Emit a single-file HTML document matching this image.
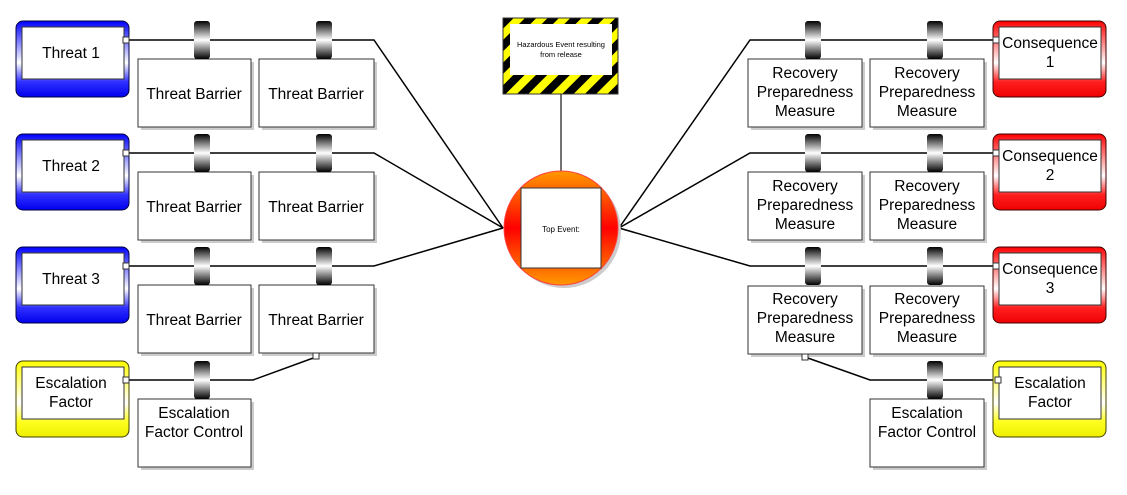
<!DOCTYPE html>
<html><head><meta charset="utf-8"><style>
html,body{margin:0;padding:0;background:#fff;}
svg text{font-family:"Liberation Sans",sans-serif;fill:#000;}
</style></head><body>
<svg width="1127" height="490" viewBox="0 0 1127 490" xmlns="http://www.w3.org/2000/svg">
<defs>
<linearGradient id="blue" x1="0" y1="0" x2="0" y2="1">
<stop offset="0" stop-color="#0000ff"/><stop offset="0.55" stop-color="#ffffff"/><stop offset="0.8" stop-color="#3030ff"/><stop offset="1" stop-color="#0000ee"/></linearGradient>
<linearGradient id="red" x1="0" y1="0" x2="0" y2="1">
<stop offset="0" stop-color="#ff0000"/><stop offset="0.55" stop-color="#ffffff"/><stop offset="0.8" stop-color="#ff2020"/><stop offset="1" stop-color="#ee0000"/></linearGradient>
<linearGradient id="yel" x1="0" y1="0" x2="0" y2="1">
<stop offset="0" stop-color="#ffff00"/><stop offset="0.55" stop-color="#ffffff"/><stop offset="0.8" stop-color="#ffff20"/><stop offset="1" stop-color="#eeee00"/></linearGradient>
<linearGradient id="knob" x1="0" y1="0" x2="0" y2="1">
<stop offset="0" stop-color="#000"/><stop offset="0.5" stop-color="#fff"/><stop offset="1" stop-color="#000"/></linearGradient>
<linearGradient id="circ" x1="0" y1="0" x2="0" y2="1">
<stop offset="0" stop-color="#ff9900"/><stop offset="0.5" stop-color="#ff0000"/><stop offset="1" stop-color="#ff9900"/></linearGradient>
<pattern id="haz" patternUnits="userSpaceOnUse" width="16" height="16" patternTransform="rotate(45)">
<rect width="16" height="16" fill="#ffff00"/><rect width="8" height="16" fill="#000"/></pattern>
<g id="knobg"><rect x="-8" y="0" width="16" height="38" rx="3" fill="url(#knob)"/></g>
</defs>

<g stroke="#000" stroke-width="1.5" fill="none">
<polyline points="129,40 374,40 503,228"/>
<polyline points="129,153 374,153 503,228"/>
<polyline points="129,266 374,266 503,228"/>
<polyline points="129,380 253,380 316,357"/>
<polyline points="993,40 750,40 619,228"/>
<polyline points="993,153 750,153 619,228"/>
<polyline points="993,266 750,266 619,228"/>
<polyline points="995,380 870,380 805,357"/>
<line x1="561" y1="94" x2="561" y2="171" stroke="#444"/>
</g>

<rect x="503" y="18" width="115" height="76" fill="url(#haz)" stroke="#333"/>
<rect x="510" y="24" width="102" height="51" fill="#fff"/>
<text x="561" y="47" font-size="7.5" text-anchor="middle">Hazardous Event resulting</text>
<text x="561" y="57" font-size="7.5" text-anchor="middle">from release</text>

<circle cx="564" cy="231" r="57" fill="#ccc"/>
<circle cx="561" cy="228" r="57" fill="url(#circ)" stroke="#ff4040"/>
<rect x="521" y="188" width="80" height="80" fill="#fff" stroke="#333"/>
<text x="561" y="232" font-size="8" text-anchor="middle">Top Event:</text>

<g stroke="#333" stroke-width="1">
<rect x="16" y="21" width="113" height="76" rx="7" fill="url(#blue)" stroke="#000040"/>
<rect x="22" y="27" width="102" height="52" fill="#fff"/>
<rect x="16" y="134" width="113" height="76" rx="7" fill="url(#blue)" stroke="#000040"/>
<rect x="22" y="140" width="102" height="52" fill="#fff"/>
<rect x="16" y="247" width="113" height="76" rx="7" fill="url(#blue)" stroke="#000040"/>
<rect x="22" y="253" width="102" height="52" fill="#fff"/>
<rect x="16" y="361" width="113" height="76" rx="7" fill="url(#yel)" stroke="#404000"/>
<rect x="22" y="367" width="102" height="52" fill="#fff"/>
<rect x="993" y="21" width="113" height="76" rx="7" fill="url(#red)" stroke="#400000"/>
<rect x="999" y="27" width="102" height="52" fill="#fff"/>
<rect x="993" y="134" width="113" height="76" rx="7" fill="url(#red)" stroke="#400000"/>
<rect x="999" y="140" width="102" height="52" fill="#fff"/>
<rect x="993" y="247" width="113" height="76" rx="7" fill="url(#red)" stroke="#400000"/>
<rect x="999" y="253" width="102" height="52" fill="#fff"/>
<rect x="993" y="361" width="113" height="76" rx="7" fill="url(#yel)" stroke="#404000"/>
<rect x="999" y="367" width="102" height="52" fill="#fff"/>
</g>

<g fill="#ccc">
<rect x="141" y="62" width="113" height="68"/><rect x="262" y="62" width="115" height="68"/>
<rect x="141" y="175" width="113" height="68"/><rect x="262" y="175" width="115" height="68"/>
<rect x="141" y="288" width="113" height="68"/><rect x="262" y="288" width="115" height="68"/>
<rect x="141" y="402" width="113" height="68"/>
<rect x="751" y="62" width="114" height="68"/><rect x="873" y="62" width="114" height="68"/>
<rect x="751" y="175" width="114" height="68"/><rect x="873" y="175" width="114" height="68"/>
<rect x="751" y="289" width="114" height="68"/><rect x="873" y="289" width="114" height="68"/>
<rect x="873" y="402" width="114" height="68"/>
</g>
<g fill="#fff" stroke="#333">
<rect x="138" y="59" width="113" height="68"/><rect x="259" y="59" width="115" height="68"/>
<rect x="138" y="172" width="113" height="68"/><rect x="259" y="172" width="115" height="68"/>
<rect x="138" y="285" width="113" height="68"/><rect x="259" y="285" width="115" height="68"/>
<rect x="138" y="399" width="113" height="68"/>
<rect x="748" y="59" width="114" height="68"/><rect x="870" y="59" width="114" height="68"/>
<rect x="748" y="172" width="114" height="68"/><rect x="870" y="172" width="114" height="68"/>
<rect x="748" y="286" width="114" height="68"/><rect x="870" y="286" width="114" height="68"/>
<rect x="870" y="399" width="114" height="68"/>
</g>

<use href="#knobg" x="202" y="21"/><use href="#knobg" x="324" y="21"/>
<use href="#knobg" x="202" y="134"/><use href="#knobg" x="324" y="134"/>
<use href="#knobg" x="202" y="247"/><use href="#knobg" x="324" y="247"/>
<use href="#knobg" x="202" y="361"/>
<use href="#knobg" x="813" y="21"/><use href="#knobg" x="935" y="21"/>
<use href="#knobg" x="813" y="134"/><use href="#knobg" x="935" y="134"/>
<use href="#knobg" x="813" y="247"/><use href="#knobg" x="935" y="247"/>
<use href="#knobg" x="935" y="361"/>

<g fill="#fff" stroke="#333">
<rect x="123" y="37" width="6" height="6"/><rect x="123" y="150" width="6" height="6"/>
<rect x="123" y="263" width="6" height="6"/><rect x="123" y="377" width="6" height="6"/>
<rect x="993" y="37" width="6" height="6"/><rect x="993" y="150" width="6" height="6"/>
<rect x="993" y="263" width="6" height="6"/><rect x="995" y="377" width="6" height="6"/>
<rect x="313" y="353" width="6" height="6"/><rect x="802" y="354" width="6" height="6"/>
</g>

<g font-size="15.5" text-anchor="middle">
<text x="71" y="58">Threat 1</text>
<text x="71" y="171">Threat 2</text>
<text x="71" y="284">Threat 3</text>
<text x="71" y="388">Escalation</text><text x="71" y="407">Factor</text>
<text x="194" y="99">Threat Barrier</text><text x="316" y="99">Threat Barrier</text>
<text x="194" y="212">Threat Barrier</text><text x="316" y="212">Threat Barrier</text>
<text x="194" y="325">Threat Barrier</text><text x="316" y="325">Threat Barrier</text>
<text x="194" y="418">Escalation</text><text x="194" y="437">Factor Control</text>
<text x="1050" y="48">Consequence</text><text x="1050" y="67">1</text>
<text x="1050" y="161">Consequence</text><text x="1050" y="180">2</text>
<text x="1050" y="274">Consequence</text><text x="1050" y="293">3</text>
<text x="1050" y="388">Escalation</text><text x="1050" y="407">Factor</text>
<text x="927" y="418">Escalation</text><text x="927" y="437">Factor Control</text>
<text x="805" y="78">Recovery</text><text x="805" y="97">Preparedness</text><text x="805" y="116">Measure</text>
<text x="927" y="78">Recovery</text><text x="927" y="97">Preparedness</text><text x="927" y="116">Measure</text>
<text x="805" y="191">Recovery</text><text x="805" y="210">Preparedness</text><text x="805" y="229">Measure</text>
<text x="927" y="191">Recovery</text><text x="927" y="210">Preparedness</text><text x="927" y="229">Measure</text>
<text x="805" y="304">Recovery</text><text x="805" y="323">Preparedness</text><text x="805" y="342">Measure</text>
<text x="927" y="304">Recovery</text><text x="927" y="323">Preparedness</text><text x="927" y="342">Measure</text>
</g>
</svg>
</body></html>
